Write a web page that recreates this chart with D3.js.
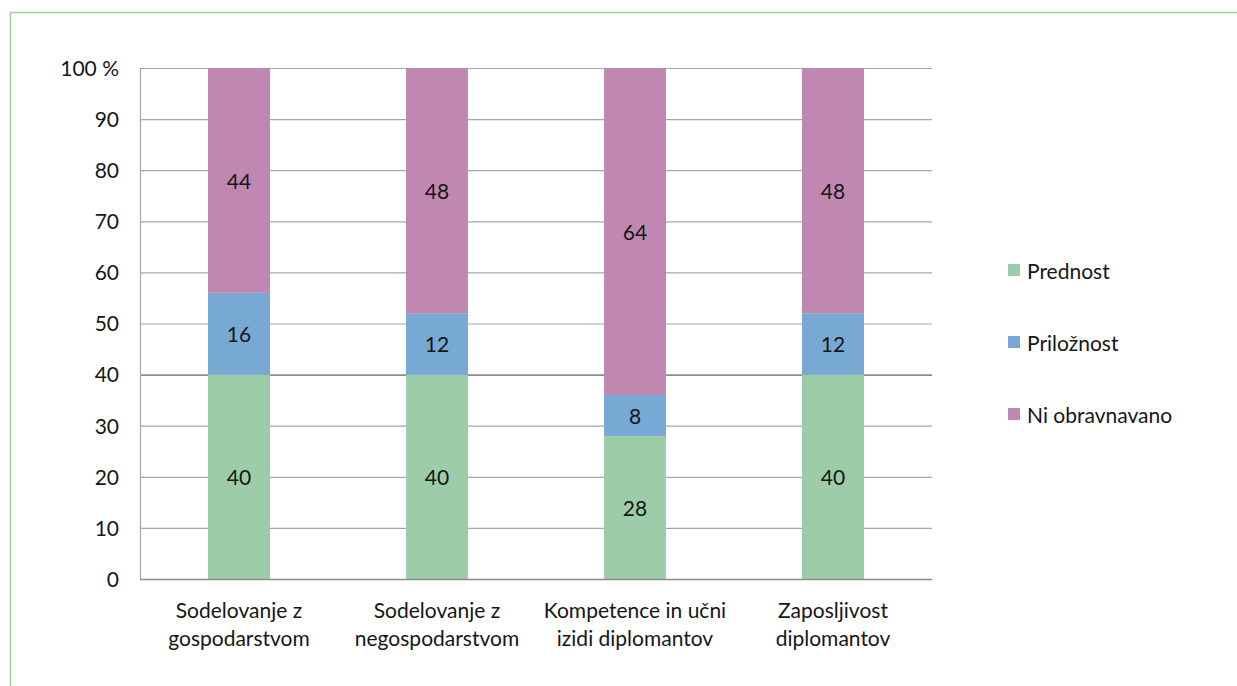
<!DOCTYPE html>
<html><head><meta charset="utf-8">
<script src="https://cdn.jsdelivr.net/npm/d3@7"></script>
<style>body{margin:0;background:#fff}svg{display:block}text{font-family:Lato,"Open Sans",sans-serif;fill:#161616}</style>
</head><body><svg id="c" width="1237" height="686"></svg>
<script>
const categories = [["Sodelovanje z","gospodarstvom"],["Sodelovanje z","negospodarstvom"],["Kompetence in učni","izidi diplomantov"],["Zaposljivost","diplomantov"]];
const seriesNames = ["Prednost","Priložnost","Ni obravnavano"];
const prednost = [40,40,28,40];
const priloznost = [16,12,8,12];
const niObravnavano = [44,48,64,48];
const yTicks = [0,10,20,30,40,50,60,70,80,90,100];
const colors = ["#9dcda8","#78a8d4","#c088b0"];

(function(){
const svg = d3.select("#c");
const FS = 21;
svg.append("path").attr("d","M10.5,686 V12.5 H1237").attr("fill","none").attr("stroke","#9fd09a").attr("stroke-width",1.5);

const pL=140, pR=932, pT=68, pB=579;
const idx = categories.map((d,i)=>i);
const x = d3.scaleBand().domain(idx).range([pL,pR]).paddingInner(0.687).paddingOuter(0.3435);
const y = d3.scaleLinear().domain([0,100]).range([pB,pT]);

svg.append("g").selectAll("line").data(yTicks.filter(t=>t>0)).join("line")
  .attr("x1",pL).attr("x2",pR).attr("y1",d=>y(d)+0.5).attr("y2",d=>y(d)+0.5)
  .attr("stroke",d=>d===40?"#8c8c8c":"#a6a6a6").attr("stroke-width",d=>d===40?1.6:1.2);

const rows = [prednost,priloznost,niObravnavano];
const data = idx.map(i=>{const o={i}; seriesNames.forEach((s,k)=>o[s]=rows[k][i]); return o;});
const stack = d3.stack().keys(seriesNames)(data);
const g = svg.append("g");
stack.forEach((layer,k)=>{
  g.append("g").selectAll("rect").data(layer).join("rect")
    .attr("x",d=>x(d.data.i)).attr("width",x.bandwidth())
    .attr("y",d=>y(d[1])).attr("height",d=>y(d[0])-y(d[1]))
    .attr("fill",colors[k]);
});
stack.forEach((layer,k)=>{
  g.append("g").selectAll("text").data(layer).join("text")
    .attr("x",d=>x(d.data.i)+x.bandwidth()/2).attr("y",d=>(y(d[0])+y(d[1]))/2)
    .attr("text-anchor","middle").attr("dominant-baseline","central")
    .attr("font-size",FS).text(d=>d[1]-d[0]);
});

svg.append("line").attr("x1",pL+0.5).attr("x2",pL+0.5).attr("y1",pT).attr("y2",pB).attr("stroke","#a6a6a6").attr("stroke-width",1.2);
svg.append("line").attr("x1",pL).attr("x2",pR).attr("y1",pB+0.5).attr("y2",pB+0.5).attr("stroke","#8c8c8c").attr("stroke-width",1.6);

const yAxis = d3.axisLeft(y).tickValues(yTicks).tickSize(0).tickPadding(0).tickFormat(d=>d===100?"100 %":d);
const ya = svg.append("g").attr("transform",`translate(${pL-21},0)`).call(yAxis);
ya.select(".domain").remove();
ya.selectAll("text").attr("font-size",FS).attr("font-family","Lato, sans-serif").attr("fill","#161616").attr("dy","0.35em");

const xl = svg.append("g").selectAll("text").data(idx).join("text")
  .attr("x",i=>x(i)+x.bandwidth()/2).attr("y",618).attr("text-anchor","middle").attr("font-size",FS);
xl.selectAll("tspan").data(i=>categories[i].map(t=>({t,i}))).join("tspan")
  .attr("x",d=>x(d.i)+x.bandwidth()/2).attr("dy",(d,j)=>j?28:0).text(d=>d.t);

const lg = svg.append("g").selectAll("g").data(seriesNames).join("g")
  .attr("transform",(d,k)=>`translate(1008,${270+k*72})`);
lg.append("rect").attr("x",0).attr("y",-6).attr("width",12).attr("height",12).attr("fill",(d,k)=>colors[k]);
lg.append("text").attr("x",19).attr("y",0).attr("dominant-baseline","central").attr("font-size",FS).text(d=>d);
})();
</script></body></html>
